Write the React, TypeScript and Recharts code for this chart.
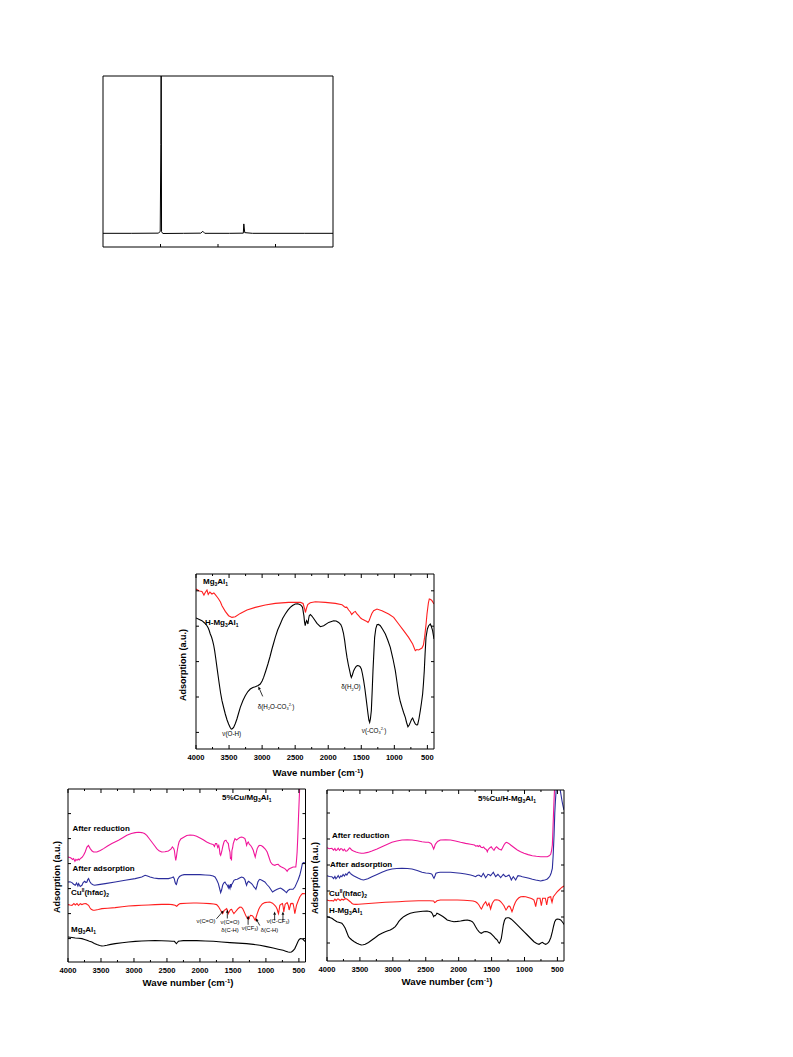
import React from 'react';
import { LineChart, Line, XAxis, YAxis, ReferenceLine } from 'recharts';

type Pair = [number, number];

// ---------- top small panel (single sharp peak trace) ----------
const peakPos = [0, 0.5, 0.96, 0.995, 1.006, 1.012, 1.018, 1.04, 1.4, 1.7, 1.736, 1.77, 2.2, 2.44, 2.449, 2.465, 2.6, 3.5, 4];
const peakVal = [8, 8, 8.1, 9, 60, 130, 9, 7.9, 8, 8.1, 9.2, 8, 8, 8.1, 13.5, 8.4, 8, 8, 8];
const peakTicks = [1, 2, 3];

// ---------- IR panel ticks ----------
const waveTicks = [4000, 3750, 3500, 3250, 3000, 2750, 2500, 2250, 2000, 1750, 1500, 1250, 1000, 750, 500];

// ---------- panel A: Mg3Al1 vs H-Mg3Al1 ----------
const mgAlA: Pair[] = [[4000,160],[3950,158],[3910,157.6],[3880,154],[3860,156.5],[3834,159],[3815,154.5],[3790,157],[3759,155],[3730,156],[3708,154.3],[3680,152],[3658,150],[3630,147],[3607,143.3],[3557,137.6],[3507,133.3],[3456,131.6],[3406,132.3],[3330,135.6],[3229,139],[3103,141.6],[2952,144],[2801,145.6],[2600,146.6],[2420,146.6],[2380,145.5],[2357,140],[2345,136.5],[2330,140.5],[2310,144.5],[2272,146.2],[2195,147.3],[2044,146.6],[1892,145.6],[1792,144.3],[1760,142.5],[1741,141.6],[1720,141.8],[1691,139],[1665,137],[1645,134.5],[1615,136.6],[1590,137.6],[1565,135],[1540,133.3],[1510,131],[1489,130],[1460,129],[1439,128.3],[1415,127.5],[1398,126.6],[1380,128.5],[1363,131.6],[1340,135.5],[1313,138.3],[1262,140],[1187,138.3],[1086,135],[1010,131.6],[935,125],[859,118.3],[784,111.6],[723,105],[683,98.3],[660,99.5],[632,99],[582,101],[560,104],[542,111.6],[520,125],[506,135],[485,146],[471,150],[450,149.5],[431,148.3],[400,145]];
const hMgAlA: Pair[] = [[4000,131],[3950,129.5],[3910,128.3],[3870,126],[3850,124.5],[3834,123.3],[3815,121],[3800,118.5],[3784,115],[3765,112],[3749,108.3],[3733,104],[3718,98.3],[3700,90],[3683,81.6],[3665,73],[3648,65],[3628,56],[3607,48.3],[3580,41],[3557,35],[3530,29],[3507,25],[3485,21.8],[3466,20],[3450,20.3],[3431,21.6],[3405,25.5],[3381,30],[3355,36],[3330,41.6],[3290,48.5],[3255,53.3],[3215,57.5],[3179,60],[3140,61.5],[3103,62.3],[3060,63.5],[3028,65],[3000,68],[2977,71.6],[2945,78],[2912,85],[2880,92.5],[2851,100],[2825,106],[2801,111.6],[2765,119],[2725,125],[2690,130.5],[2650,135],[2610,138.8],[2574,141.6],[2540,143.5],[2499,145],[2460,145.2],[2423,144.3],[2400,142.8],[2388,141.6],[2375,136],[2368,133.3],[2358,127],[2348,123.3],[2338,126.5],[2327,128.3],[2317,127],[2307,125],[2297,130],[2287,133.3],[2270,134.5],[2247,133],[2220,130.5],[2170,125.6],[2119,122.3],[2069,123.3],[1993,126.6],[1918,128.3],[1880,128],[1842,126.6],[1810,124.5],[1792,121.6],[1770,116],[1751,108.3],[1735,100],[1716,91.6],[1695,84],[1676,78.3],[1660,73.5],[1650,71.6],[1635,74],[1615,78.3],[1598,80.5],[1580,82.3],[1560,83.5],[1540,83.3],[1520,82.5],[1499,80],[1482,75],[1464,68.3],[1445,60],[1429,51.6],[1412,42.5],[1398,35],[1385,29],[1373,26.6],[1362,30],[1348,38.3],[1335,58],[1323,78.3],[1310,96],[1298,111.6],[1280,120.5],[1262,124.3],[1240,124.6],[1212,123.3],[1175,119.5],[1136,115],[1100,109],[1061,101.6],[1020,90],[985,78.3],[960,67],[935,55],[910,47.5],[884,41.6],[860,36.5],[834,31.6],[815,26.5],[794,22.3],[775,24],[758,26.6],[740,29.5],[723,31],[705,28],[683,25],[665,24],[648,24.3],[628,30],[607,38.3],[590,46],[572,55],[560,65],[547,78.3],[535,95],[521,111.6],[500,120],[481,123.3],[456,125],[440,122.5],[421,118.3],[400,110]];

// ---------- panel B: 5%Cu/Mg3Al1 ----------
const afterRedB: Pair[] = [[4000,105],[3960,104.2],[3930,102.5],[3915,103.4],[3895,100.8],[3880,102.6],[3864,101.7],[3845,103],[3830,102],[3814,103.4],[3790,104.5],[3764,106.7],[3740,110],[3713,115],[3690,116.5],[3663,113.4],[3635,111],[3612,110],[3562,110],[3510,111.5],[3461,113.4],[3400,116],[3335,118.4],[3234,121.7],[3170,124.2],[3108,126.7],[3040,128.5],[2982,129.4],[2930,129.8],[2882,129.4],[2840,128.5],[2806,126.7],[2770,123.5],[2730,120],[2690,116.5],[2655,113.4],[2620,111.2],[2579,110],[2530,110.2],[2478,111],[2440,112.8],[2418,115],[2398,113.5],[2388,111.7],[2377,106],[2367,101.7],[2357,105],[2347,110],[2330,116.5],[2317,120],[2290,123],[2252,124.5],[2200,126.5],[2150,127],[2099,126.7],[2050,125.8],[1999,124],[1950,122.2],[1898,120],[1850,118.5],[1815,117.8],[1797,117.4],[1780,115.5],[1765,118.5],[1747,118.4],[1730,114.5],[1715,116.5],[1706,113.4],[1696,108],[1686,106.7],[1676,109],[1666,111.7],[1652,116],[1636,120],[1620,121.5],[1605,121.7],[1590,120],[1570,118.4],[1558,113],[1545,110],[1537,103],[1530,105],[1522,101.5],[1515,111.7],[1505,114],[1495,118.4],[1482,121],[1469,123.4],[1445,122],[1419,123.4],[1395,124.5],[1369,125],[1345,124.5],[1318,123.4],[1305,120.5],[1293,116.7],[1280,119],[1268,120],[1250,117.5],[1233,116.7],[1212,114.5],[1192,111.7],[1176,108],[1162,105],[1150,108.5],[1132,113.4],[1110,116],[1091,116.7],[1065,116.2],[1041,115],[1010,113],[981,110],[955,105],[930,100],[900,97.5],[865,96.7],[840,97.5],[814,97.7],[790,96],[764,95],[740,94.3],[714,93.4],[695,92.2],[678,90.7],[660,92.5],[638,93.4],[612,94.3],[588,95],[565,95],[547,95],[537,101],[527,110],[517,125],[507,143],[497,160],[487,176.7],[470,200],[400,230]];
const afterAdsB: Pair[] = [[4000,80],[3970,80.3],[3940,79.4],[3915,77.8],[3890,76.7],[3870,79],[3850,76],[3839,78.4],[3815,75.6],[3789,76.7],[3770,79.5],[3748,80.7],[3728,79.5],[3713,80],[3700,82.5],[3688,83.4],[3670,80.5],[3648,78.4],[3620,77.2],[3597,76.7],[3537,77.4],[3436,78.4],[3285,80],[3134,81.7],[2982,83.4],[2882,85],[2831,86.7],[2795,86],[2756,85],[2700,84],[2630,83.4],[2550,83.4],[2478,83.4],[2430,84.2],[2403,85],[2388,83],[2378,80],[2367,78],[2357,77.4],[2347,80],[2337,82.7],[2310,85.5],[2277,86.7],[2240,87.4],[2150,87.4],[2050,87.4],[1999,87.4],[1920,87],[1847,86.7],[1800,86],[1772,85],[1745,82],[1721,78.4],[1700,73],[1686,69.4],[1672,72],[1656,76.7],[1640,79],[1621,80],[1603,78],[1585,76.7],[1570,74.2],[1562,77.5],[1555,75],[1545,73.5],[1535,77.8],[1528,74.5],[1520,77.4],[1500,79.5],[1485,81.7],[1460,82.5],[1434,82.7],[1400,84],[1369,85],[1340,84.3],[1318,82.4],[1305,79],[1293,76.7],[1280,79.5],[1263,80.7],[1240,79.5],[1217,78.4],[1200,77],[1182,75],[1165,74],[1152,72.7],[1137,76],[1122,80],[1105,82],[1091,82.7],[1055,81.5],[1016,80],[985,77.5],[950,75],[925,72.5],[900,70],[865,71.5],[829,72.7],[800,73.5],[779,74],[755,73],[729,71.7],[705,70.3],[688,69.4],[665,71.5],[638,72.7],[612,72.8],[588,72.7],[560,75],[537,78.4],[510,82.5],[487,86.7],[467,92],[447,98.4],[430,99.5],[400,99]];
const cuHfacB: Pair[] = [[4000,57.4],[3970,57],[3940,56.7],[3910,58.5],[3890,57],[3864,58.4],[3840,56.5],[3815,58.3],[3789,57.4],[3760,58.2],[3728,58.4],[3708,57.5],[3688,56.7],[3665,54],[3648,52.7],[3620,51.8],[3597,51.7],[3540,52.5],[3486,53.4],[3400,53.8],[3285,54.4],[3180,55.2],[3083,56],[2982,56.4],[2882,56.7],[2780,57],[2680,57.4],[2580,57.6],[2478,57.7],[2420,57.4],[2378,56.7],[2352,55.7],[2330,57.2],[2301,58.4],[2200,58.7],[2100,59],[2049,59],[1950,58.8],[1847,58.4],[1790,58],[1747,57.4],[1720,55.5],[1696,52.7],[1675,50.5],[1656,48.4],[1643,50],[1631,51.7],[1612,52.5],[1595,53.4],[1582,51],[1570,48.4],[1558,50],[1545,51.7],[1532,52.5],[1520,52.7],[1505,50.5],[1485,48.4],[1465,50],[1444,51.7],[1420,53.5],[1394,55],[1372,54.8],[1353,53.4],[1335,51],[1318,48.4],[1305,46.5],[1293,45],[1278,43.5],[1263,42.7],[1248,45],[1233,46.7],[1218,46.5],[1202,46],[1185,44.5],[1172,42.5],[1162,41.7],[1148,45],[1132,48.4],[1110,52.5],[1091,55],[1055,58],[1016,59.4],[980,59.8],[940,60],[900,58.8],[865,56.7],[845,55],[829,52.7],[818,50],[809,48.4],[800,52],[789,56.7],[770,57.8],[749,58.4],[738,55],[729,50],[720,53.5],[709,57.7],[690,58.8],[678,59.4],[660,56.5],[648,52],[636,55],[623,58.4],[600,58.6],[588,58.4],[575,54],[562,48.4],[552,51.5],[537,56.7],[515,60.5],[487,65],[467,67],[447,68.4],[430,68.5],[400,68.2]];
const mgAlB: Pair[] = [[4000,25],[3940,24.5],[3890,24],[3840,23.8],[3789,23.4],[3750,22.6],[3713,21.7],[3675,20.8],[3638,20],[3600,18.6],[3562,17.4],[3520,16.5],[3486,16],[3450,16.2],[3411,16.7],[3350,17.6],[3285,18.4],[3180,19.3],[3083,20],[2980,20.6],[2882,21],[2780,21.2],[2680,21.4],[2580,21.3],[2478,21],[2420,20.8],[2388,20.7],[2370,19.3],[2357,18.4],[2342,19.5],[2327,20.7],[2300,21],[2252,21.4],[2150,21.4],[2049,21.4],[1920,21],[1797,20.7],[1670,20],[1545,19.4],[1420,18.9],[1293,18.4],[1190,17.6],[1091,16.7],[990,15.4],[890,14],[815,12.8],[739,11.7],[700,10.8],[663,10],[638,9.8],[613,10],[590,11.2],[562,13.4],[537,17],[512,20.7],[495,22.5],[477,23.4],[457,23.3],[437,22.7],[420,21.5],[400,20]];

// ---------- panel C: 5%Cu/H-Mg3Al1 ----------
const afterRedC: Pair[] = [[4000,113.3],[3965,112.2],[3926,112.7],[3900,110.8],[3880,112.5],[3865,110.5],[3850,111],[3830,112.8],[3810,110.7],[3790,112.4],[3774,112],[3755,110.3],[3735,111.8],[3715,109.8],[3698,110],[3675,111.5],[3660,113],[3647,112.7],[3625,111],[3597,110],[3560,109],[3521,108.3],[3480,107.8],[3444,107.7],[3380,108.6],[3318,110],[3240,112],[3166,114.3],[3090,116.5],[3014,118.7],[2940,120],[2861,121],[2780,121.2],[2709,121],[2630,120.2],[2557,119.3],[2500,118.8],[2456,118.7],[2420,117.5],[2405,116],[2392,114],[2380,112],[2368,114],[2355,116.7],[2320,119.5],[2278,121],[2200,121.2],[2123,121],[2050,120],[1971,118.7],[1895,117.6],[1819,116.7],[1760,116],[1740,114.8],[1717,115.3],[1700,114.5],[1680,115.5],[1660,113.8],[1641,113.3],[1620,114],[1605,112.5],[1590,112],[1575,111],[1565,109.3],[1555,111],[1545,112],[1525,113.3],[1505,114.2],[1489,112.7],[1475,111.5],[1464,110.7],[1445,112.8],[1423,114.3],[1405,113],[1388,112],[1370,111.5],[1352,111],[1335,113],[1312,116],[1290,118],[1271,118.7],[1240,117.6],[1210,116],[1160,113.5],[1109,111],[1060,109.2],[1007,107.7],[945,106.4],[881,105.3],[820,104.7],[754,104.3],[700,104.2],[653,104.3],[625,105.2],[602,106.7],[590,110],[577,116],[570,128],[562,142.7],[552,160],[541,176],[520,200],[400,225]];
const afterAdsC: Pair[] = [[4000,85.3],[3965,84.5],[3926,84.3],[3900,82.5],[3880,84.6],[3865,82.2],[3850,83.3],[3830,85.5],[3810,83],[3790,85.2],[3774,84.3],[3755,86.5],[3735,85],[3715,87.2],[3698,86],[3675,88.5],[3660,89],[3647,87.7],[3625,86.5],[3597,85.3],[3560,84],[3521,82.7],[3480,81.5],[3444,81],[3380,82.2],[3318,84.3],[3240,86.5],[3166,88.7],[3090,90.8],[3014,92],[2940,92.5],[2861,92.7],[2780,92.5],[2709,92],[2630,90.5],[2557,88.7],[2500,88],[2456,87.7],[2420,87.3],[2405,86.7],[2390,84.5],[2375,82.7],[2360,85],[2345,87.7],[2310,88.5],[2278,88.7],[2200,88.7],[2123,88.7],[2050,88.3],[1971,87.7],[1895,87],[1819,86],[1780,85.3],[1743,84.3],[1720,85.5],[1692,86],[1672,85],[1656,84.3],[1640,86],[1626,87.7],[1608,85.5],[1590,83.3],[1572,85],[1555,86.7],[1535,86.2],[1515,85.3],[1495,87],[1474,88.7],[1456,86.5],[1439,84.3],[1420,85.5],[1403,86.7],[1382,85],[1362,83.3],[1342,85],[1322,86.7],[1305,85.5],[1286,84.3],[1262,85],[1236,86],[1218,84],[1200,81],[1185,82.8],[1170,84.3],[1150,82.5],[1134,81],[1115,83.5],[1099,85.3],[1065,85],[1033,84.3],[980,83.5],[931,82.7],[880,81.8],[830,81],[790,80.5],[754,80],[720,80.6],[693,81],[670,81.5],[653,82],[630,83.5],[612,85.3],[595,88],[577,92.7],[565,105],[551,126],[540,148],[531,159.3],[520,170],[511,174.3],[500,180],[480,182],[460,172],[445,166],[430,160],[415,155],[400,151]];
const cuHfacC: Pair[] = [[4000,61],[3965,60.2],[3926,60.5],[3901,60],[3880,61.8],[3860,60.3],[3840,62],[3825,62],[3800,60.5],[3775,61.8],[3749,61],[3725,62.3],[3698,62],[3670,60.5],[3647,59.3],[3620,57.5],[3597,56.7],[3560,56.6],[3521,56.7],[3420,57.2],[3318,57.7],[3215,58.2],[3115,58.7],[3010,59],[2912,59.3],[2810,59.7],[2709,60],[2610,60.2],[2507,60.3],[2440,60.2],[2380,60],[2365,58.5],[2355,58.7],[2330,60.2],[2278,61],[2150,61],[2021,61],[1920,60.7],[1819,60.3],[1780,60],[1743,59.3],[1718,58],[1692,56],[1675,54],[1656,52],[1642,53.5],[1626,56],[1608,57.8],[1590,59.3],[1578,57.5],[1565,55.3],[1552,56.2],[1540,57.7],[1528,55],[1515,52],[1502,55],[1489,57.7],[1472,59.5],[1454,61],[1430,61.2],[1403,61],[1382,60.5],[1362,59.3],[1338,57.5],[1312,55.3],[1296,53],[1281,51],[1266,52.5],[1251,54.3],[1235,55],[1220,54.3],[1205,52],[1190,49.3],[1175,52],[1160,55.3],[1140,58.5],[1119,61],[1090,63],[1058,64.3],[1020,64.5],[982,64.3],[945,63.5],[906,62.7],[880,62],[856,61],[843,58],[830,54.3],[818,58.5],[805,62.7],[785,62.8],[764,62.7],[754,59],[744,55.3],[734,59],[724,62.7],[703,62.8],[683,62.7],[673,59.5],[663,56],[653,59.5],[643,63.3],[622,63.9],[602,64.3],[592,61],[582,58.7],[572,61.5],[562,64.3],[530,67],[501,69.3],[475,71],[450,72.7],[430,73.8],[400,75]];
const hMgAlC: Pair[] = [[4000,44.3],[3960,43.5],[3926,42.7],[3890,41],[3850,39.3],[3810,38.5],[3774,37.7],[3750,35.8],[3723,32.7],[3698,28.5],[3673,24.3],[3648,22.5],[3622,21],[3585,19.2],[3546,17.7],[3510,16.7],[3480,16],[3450,16.2],[3419,16.7],[3370,18.5],[3318,21],[3265,23.5],[3216,26],[3165,27.8],[3115,29.3],[3075,30.2],[3039,31],[3000,32.5],[2963,34.3],[2935,36.8],[2912,39.3],[2875,42],[2836,44.3],[2785,46.2],[2735,47.7],[2670,48.7],[2608,49.3],[2545,49.8],[2481,50],[2440,49.5],[2415,48.7],[2398,47],[2380,44.3],[2368,45.5],[2355,45.3],[2342,46.5],[2330,47.7],[2305,47],[2278,46],[2240,44.5],[2200,42.5],[2174,41],[2120,40],[2072,39.3],[2020,39.6],[1971,40],[1920,40.6],[1869,41],[1830,40.4],[1793,39.3],[1770,37.5],[1743,34.3],[1718,31.5],[1692,29.3],[1672,28.2],[1656,27.7],[1635,28.5],[1616,29.3],[1590,29.5],[1565,29.3],[1540,28.6],[1515,27.7],[1490,26.2],[1464,24.3],[1440,22.5],[1413,21],[1398,19],[1383,17.7],[1368,19.5],[1352,22.7],[1337,29],[1322,36],[1305,40.5],[1286,42.7],[1260,43.2],[1236,43.3],[1200,41.8],[1160,39.3],[1110,36.2],[1058,32.7],[1005,29.2],[957,26],[905,22.5],[856,19.3],[815,17.6],[779,16.7],[755,17.8],[729,18.7],[705,17.5],[678,16.7],[650,17.6],[627,19.3],[600,23.5],[577,29.3],[558,35],[541,39.3],[520,41.5],[501,42],[475,41.8],[450,41],[430,39.5],[410,37.7],[400,36.5]];

// annotation arrows: [tailWave, tailY, headWave, headY]
const arrowsA = [[2991, 52.6, 3057, 62.6]];
const arrowsB = [
  [1750, 43.2, 1640, 51.5],
  [1585, 43.5, 1585, 52.5],
  [1270, 37.2, 1270, 46.5],
  [1093, 36.5, 1154, 43.8],
  [868, 41.5, 868, 50.5],
  [742, 41.5, 742, 50.5],
];

const FONT = '"Liberation Sans", Arial, Helvetica, sans-serif';
const RED = '#ff1f1f';
const PINK = '#f0169a';
const BLUE = '#2b2d9c';

const WL = 26;
const WR = 8;
const HT = 8;
const HB = 34;

const toPts = (arr: Pair[]) => arr.map(([w, v]) => ({ w, v }));

const BottomTick = (props: any) => {
  const { x, y, payload } = props;
  const major = payload.value % 500 === 0;
  return (
    <g>
      <line x1={x} x2={x} y1={y} y2={y - (major ? 4 : 2)} stroke="#000" />
      {major && (
        <text x={x} y={y + 10.5} textAnchor="middle" fontSize={7.6} fontWeight="bold" fontFamily={FONT} fill="#000">
          {payload.value}
        </text>
      )}
    </g>
  );
};

const TopTick = (props: any) => {
  const { x, y, payload } = props;
  const major = payload.value % 500 === 0;
  return <line x1={x} x2={x} y1={y} y2={y + (major ? 4 : 2)} stroke="#000" />;
};

const LeftTick = (props: any) => <line x1={props.x} x2={props.x + 3} y1={props.y} y2={props.y} stroke="#000" />;
const RightTick = (props: any) => <line x1={props.x} x2={props.x - 3} y1={props.y} y2={props.y} stroke="#000" />;

const Arrow = (props: any) => {
  const { x1, y1, x2, y2 } = props;
  const a = Math.atan2(y2 - y1, x2 - x1);
  const L = 3.2;
  const W = 1.4;
  const bx = x2 - L * Math.cos(a);
  const by = y2 - L * Math.sin(a);
  const px = -Math.sin(a) * W;
  const py = Math.cos(a) * W;
  return (
    <g>
      <line x1={x1} y1={y1} x2={bx} y2={by} stroke="#000" strokeWidth={0.8} />
      <polygon points={`${x2},${y2} ${bx + px},${by + py} ${bx - px},${by - py}`} fill="#000" />
    </g>
  );
};

interface Box { l: number; t: number; r: number; b: number }
interface Series { data: Pair[]; color: string }

const IRPanel: React.FC<{ box: Box; yMax: number; yTicks: number[]; series: Series[]; arrows?: number[][] }> = ({ box, yMax, yTicks, series, arrows = [] }) => {
  const width = box.r - box.l + WL + WR;
  const height = box.b - box.t + HT + HB;
  return (
    <div style={{ position: 'absolute', left: box.l - WL, top: box.t - HT }}>
      <LineChart width={width} height={height} margin={{ top: 0, right: 0, bottom: 0, left: 0 }}>
        <XAxis xAxisId="b" dataKey="w" type="number" domain={[400, 4000]} reversed allowDataOverflow ticks={waveTicks} interval={0}
          height={HB} tickSize={0} tickMargin={0} tickLine={false} axisLine={{ stroke: '#000' }} tick={(p: any) => <BottomTick {...p} />} />
        <XAxis xAxisId="t" orientation="top" dataKey="w" type="number" domain={[400, 4000]} reversed allowDataOverflow ticks={waveTicks} interval={0}
          height={HT} tickSize={0} tickMargin={0} tickLine={false} axisLine={{ stroke: '#000' }} tick={(p: any) => <TopTick {...p} />} />
        <YAxis yAxisId="l" type="number" domain={[0, yMax]} allowDataOverflow ticks={yTicks} interval={0}
          width={WL} tickSize={0} tickMargin={0} tickLine={false} axisLine={{ stroke: '#000' }} tick={(p: any) => <LeftTick {...p} />} />
        <YAxis yAxisId="r" orientation="right" type="number" domain={[0, yMax]} allowDataOverflow ticks={yTicks} interval={0}
          width={WR} tickSize={0} tickMargin={0} tickLine={false} axisLine={{ stroke: '#000' }} tick={(p: any) => <RightTick {...p} />} />
        {series.map((s, i) => (
          <Line key={i} xAxisId="b" yAxisId="l" data={toPts(s.data)} dataKey="v" type="linear" stroke={s.color}
            strokeWidth={1.1} dot={false} activeDot={false} isAnimationActive={false} />
        ))}
        {arrows.map((a, i) => (
          <ReferenceLine key={'a' + i} xAxisId="b" yAxisId="l" ifOverflow="visible"
            segment={[{ x: a[0], y: a[1] }, { x: a[2], y: a[3] }]} shape={(p: any) => <Arrow {...p} />} />
        ))}
      </LineChart>
    </div>
  );
};

const PeakPanel: React.FC = () => {
  const box = { l: 102.5, t: 76, r: 332.5, b: 247 };
  const data = peakPos.map((p, i) => ({ w: p, v: peakVal[i] }));
  return (
    <div style={{ position: 'absolute', left: box.l - 10, top: box.t - 10 }}>
      <LineChart width={box.r - box.l + 20} height={box.b - box.t + 20} margin={{ top: 0, right: 0, bottom: 0, left: 0 }}>
        <XAxis xAxisId="b" dataKey="w" type="number" domain={[0, 4]} allowDataOverflow ticks={peakTicks} interval={0}
          height={10} tickSize={0} tickMargin={0} tickLine={false} axisLine={{ stroke: '#000' }}
          tick={(p: any) => <line x1={p.x} x2={p.x} y1={p.y} y2={p.y - 3} stroke="#000" />} />
        <XAxis xAxisId="t" orientation="top" dataKey="w" type="number" domain={[0, 4]} height={10} tick={false} tickLine={false} axisLine={{ stroke: '#000' }} />
        <YAxis yAxisId="l" type="number" domain={[0, 100]} allowDataOverflow width={10} tick={false} tickLine={false} axisLine={{ stroke: '#000' }} />
        <YAxis yAxisId="r" orientation="right" type="number" domain={[0, 100]} allowDataOverflow width={10} tick={false} tickLine={false} axisLine={{ stroke: '#000' }} />
        <Line xAxisId="b" yAxisId="l" data={data} dataKey="v" type="linear" stroke="#000" strokeWidth={1} dot={false} activeDot={false} isAnimationActive={false} />
      </LineChart>
    </div>
  );
};

const Txt: React.FC<{ x: number; y: number; size?: number; bold?: boolean; center?: boolean; children: React.ReactNode }> = ({ x, y, size = 8, bold = true, center = false, children }) => (
  <div style={{ position: 'absolute', left: x, top: y, transform: `translate(${center ? '-50%' : '0'}, -50%)`, fontFamily: FONT, fontSize: size, fontWeight: bold ? 'bold' : 'normal', lineHeight: 1, whiteSpace: 'nowrap', color: '#000' }}>
    {children}
  </div>
);

const VTxt: React.FC<{ x: number; y: number; children: React.ReactNode }> = ({ x, y, children }) => (
  <div style={{ position: 'absolute', left: x, top: y, transform: 'translate(-50%, -50%) rotate(-90deg)', fontFamily: FONT, fontSize: 9, fontWeight: 'bold', lineHeight: 1, whiteSpace: 'nowrap' }}>
    {children}
  </div>
);

const Sb: React.FC<{ children: React.ReactNode }> = ({ children }) => <span style={{ fontSize: '0.62em', verticalAlign: '-0.3em' }}>{children}</span>;
const Sp: React.FC<{ children: React.ReactNode }> = ({ children }) => <span style={{ fontSize: '0.62em', verticalAlign: '0.6em' }}>{children}</span>;

const WaveTitle: React.FC<{ x: number; y: number }> = ({ x, y }) => (
  <Txt x={x} y={y} size={9.6} center>Wave number (cm<Sp>-1</Sp>)</Txt>
);

const App: React.FC = () => {
  return (
    <div style={{ position: 'absolute', left: 0, top: 0, width: 793, height: 1057, background: '#fff' }}>
      <PeakPanel />

      <IRPanel box={{ l: 196, t: 573.5, r: 434, b: 748.5 }} yMax={175} yTicks={[16.6, 52, 87.4, 122.8, 158.2]}
        series={[{ data: mgAlA, color: RED }, { data: hMgAlA, color: '#000' }]} arrows={arrowsA} />
      <IRPanel box={{ l: 68, t: 788.5, r: 305.5, b: 961.5 }} yMax={173} yTicks={[23.4, 48.4, 73.4, 98.4, 123.4, 148.4]}
        series={[{ data: afterRedB, color: PINK }, { data: afterAdsB, color: BLUE }, { data: cuHfacB, color: RED }, { data: mgAlB, color: '#000' }]} arrows={arrowsB} />
      <IRPanel box={{ l: 326.5, t: 790, r: 563.5, b: 961 }} yMax={171} yTicks={[18, 44, 70, 96, 122, 148]}
        series={[{ data: afterRedC, color: PINK }, { data: afterAdsC, color: BLUE }, { data: cuHfacC, color: RED }, { data: hMgAlC, color: '#000' }]} />

      {/* panel A texts */}
      <Txt x={203} y={582.5}>Mg<Sb>3</Sb>Al<Sb>1</Sb></Txt>
      <Txt x={205} y={624}>H-Mg<Sb>3</Sb>Al<Sb>1</Sb></Txt>
      <Txt x={231.7} y={734} size={6.3} bold={false} center>ν(O-H)</Txt>
      <Txt x={276} y={706.5} size={6.3} bold={false} center>δ(H<Sb>2</Sb>O-CO<Sb>3</Sb><Sp>2-</Sp>)</Txt>
      <Txt x={351} y={687.5} size={6.3} bold={false} center>δ(H<Sb>2</Sb>O)</Txt>
      <Txt x={374} y={731} size={6.3} bold={false} center>ν(-CO<Sb>3</Sb><Sp>2-</Sp>)</Txt>
      <VTxt x={183} y={665}>Adsorption (a.u.)</VTxt>
      <WaveTitle x={318} y={772.5} />

      {/* panel B texts */}
      <Txt x={222} y={799}>5%Cu/Mg<Sb>3</Sb>Al<Sb>1</Sb></Txt>
      <Txt x={72.5} y={828.5}>After reduction</Txt>
      <Txt x={72.5} y={869}>After adsorption</Txt>
      <Txt x={71} y={894}>Cu<Sp>II</Sp>(hfac)<Sb>2</Sb></Txt>
      <Txt x={71} y={930.5}>Mg<Sb>3</Sb>Al<Sb>1</Sb></Txt>
      <Txt x={206} y={921.5} size={5.8} bold={false} center>ν(C=O)</Txt>
      <Txt x={230} y={923} size={5.8} bold={false} center>ν(C=O)</Txt>
      <Txt x={230} y={931} size={5.8} bold={false} center>δ(C-H)</Txt>
      <Txt x={250} y={929} size={5.8} bold={false} center>ν(CF<Sb>3</Sb>)</Txt>
      <Txt x={269.5} y={931} size={5.8} bold={false} center>δ(C-H)</Txt>
      <Txt x={278} y={922} size={5.8} bold={false} center>ν(C-CF<Sb>3</Sb>)</Txt>
      <VTxt x={57} y={877}>Adsorption (a.u.)</VTxt>
      <WaveTitle x={188} y={983} />

      {/* panel C texts */}
      <Txt x={478} y={800}>5%Cu/H-Mg<Sb>3</Sb>Al<Sb>1</Sb></Txt>
      <Txt x={332} y={836}>After reduction</Txt>
      <Txt x={330} y={864.5}>After adsorption</Txt>
      <Txt x={329} y={894.5}>Cu<Sp>II</Sp>(hfac)<Sb>2</Sb></Txt>
      <Txt x={329} y={912}>H-Mg<Sb>3</Sb>Al<Sb>1</Sb></Txt>
      <VTxt x={315} y={878}>Adsorption (a.u.)</VTxt>
      <WaveTitle x={447} y={982} />
    </div>
  );
};

export default App;
